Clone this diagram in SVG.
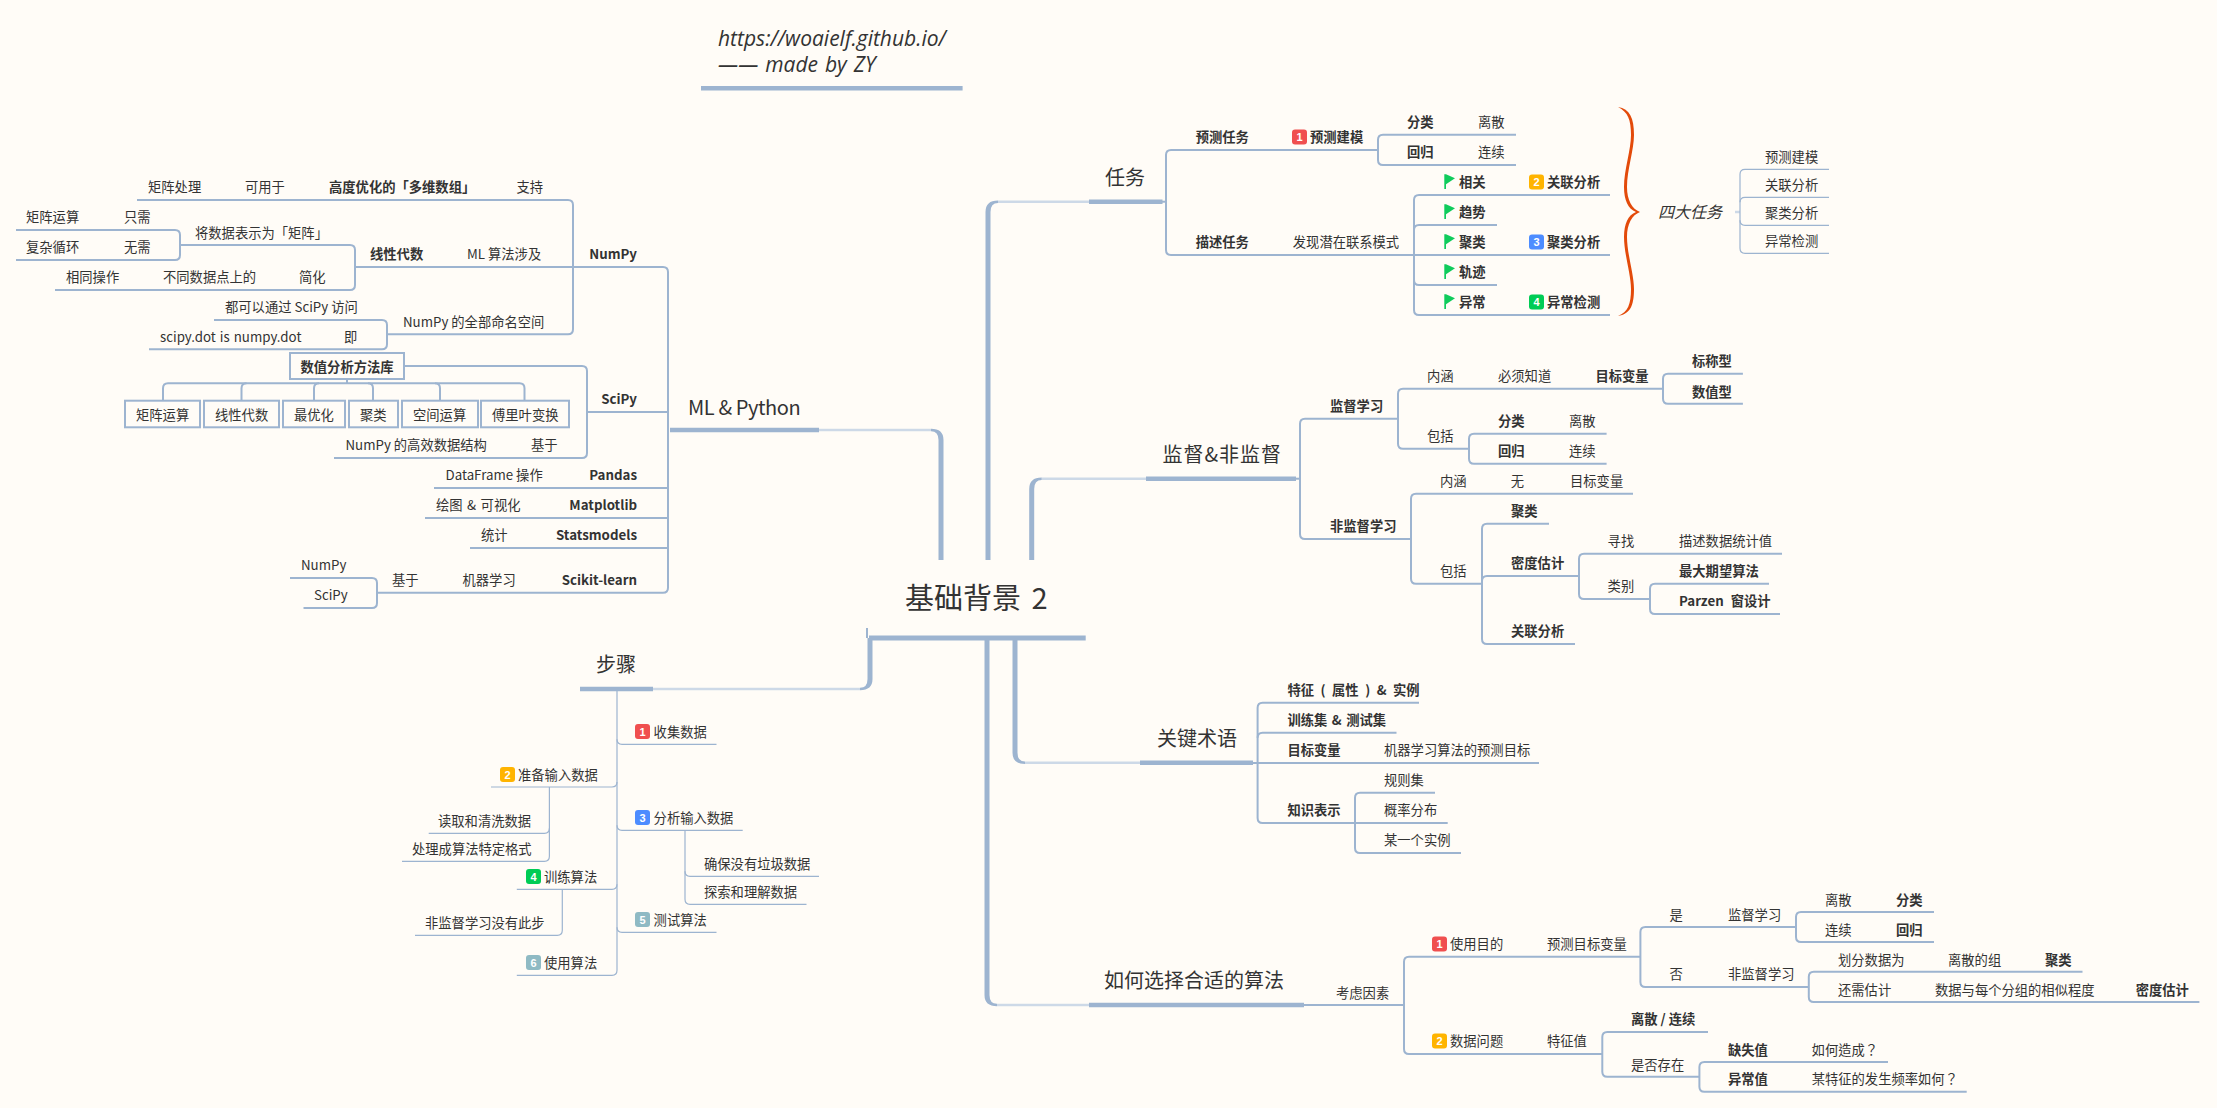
<svg xmlns="http://www.w3.org/2000/svg" width="2217" height="1108" viewBox="0 0 2217 1108">
<style>
text{font-family:"Noto Sans CJK SC","Noto Sans",sans-serif;font-size:13.3px;fill:#333}
.b{font-weight:700}
.t{font-size:20px}
.r{font-size:29px;word-spacing:4px}
.i{font-style:italic;font-size:16px}
.u{font-family:"Open Sans",Lato,sans-serif;font-style:italic;font-size:21px}
.n{font-family:"Liberation Sans",sans-serif;font-size:11px;font-weight:700;fill:#fff;text-anchor:middle}
.e{text-anchor:end}
.q{font-family:"Noto Sans CJK TC","Noto Sans",sans-serif}
#connectors path{fill:none;stroke:#9db4d0}
#connectors .tk{fill:#9db4d0;stroke:none}
#connectors .m{stroke-width:5}
#connectors .h{stroke-width:4.4}
#connectors .l{stroke-width:2.5;stroke:#cdd9e7}
#connectors .c{stroke-width:2}
#connectors .f{stroke-width:1.2}
.box{fill:none;stroke:#9db4d0;stroke-width:2}
.flag{fill:#0fcc5c}
.b1{fill:#f04f4f}.b2{fill:#ffb400}.b3{fill:#4d8cff}.b4{fill:#00cc55}.b5{fill:#8fbac4}
</style>
<defs>
<path id="flag" d="M0.3,-7.7H2L11,-3.7L2,2.3V7H0.3Z"/>
</defs>
<rect width="2217" height="1108" fill="#fffcf7"/>
<g id="connectors">
<!-- root and main trunks -->
<path class="m" d="M869,638H1085.7"/>
<path class="c" d="M867,628V638"/>
<path class="l" d="M653,689H860"/>
<path class="tk" d="M872.5,638V679Q872.5,690.2 860,690.2V687.8Q867.5,687.8 867.5,679V638Z"/>
<path class="l" d="M819,430H931"/>
<path class="tk" d="M943.5,560V440Q943.5,428.8 931,428.8V431.2Q938.5,431.2 938.5,440V560Z"/>
<path class="l" d="M998,201.7H1089"/>
<path class="tk" d="M985.5,560V212Q985.5,200.5 998,200.5V203Q990.5,203 990.5,212V560Z"/>
<path class="l" d="M1041.7,478.7H1146"/>
<path class="tk" d="M1029.2,560V489Q1029.2,477.5 1041.7,477.5V480Q1034.2,480 1034.2,489V560Z"/>
<path class="l" d="M1025,762.7H1140"/>
<path class="tk" d="M1012.5,638V752.7Q1012.5,764 1025,764V761.5Q1017.5,761.5 1017.5,752.7V638Z"/>
<path class="l" d="M997,1005H1089"/>
<path class="tk" d="M984.5,638V995Q984.5,1006.2 997,1006.2V1003.8Q989.5,1003.8 989.5,995V638Z"/>
<path class="h" d="M580,689H653"/>
<path class="h" d="M670,430H819"/>
<path class="h" d="M1089,201.7H1162.5"/>
<path class="h" d="M1146,478.7H1296"/>
<path class="h" d="M1140,762.7H1253"/>
<path class="h" d="M1089,1005H1304"/>
<path class="h" d="M701,88.3H962.6"/>
<!-- ML & Python -->
<path class="c" d="M137,200H568Q573,200 573,205V329.3Q573,334.3 568,334.3H387"/>
<path class="c" d="M355,267H663Q668,267 668,272V587.7Q668,592.7 663,592.7H377"/>
<path class="c" d="M180,245H350Q355,245 355,250V285Q355,290 350,290H55"/>
<path class="c" d="M16,230H175Q180,230 180,235V255Q180,260 175,260H16"/>
<path class="c" d="M214,320H382Q387,320 387,325V344.3Q387,349.3 382,349.3H149"/>
<path class="c" d="M668,412H587"/>
<path class="c" d="M404,366H582Q587,366 587,371V453Q587,458 582,458H334"/>
<path class="c" d="M347,379V383.3"/>
<path class="c" d="M163,400.7V388.3Q163,383.3 168,383.3H519.5Q524.5,383.3 524.5,388.3V400.7"/>
<path class="c" d="M241.5,400.7V388.3Q241.5,383.3 246.5,383.3"/>
<path class="c" d="M314,400.7V388.3Q314,383.3 319,383.3"/>
<path class="c" d="M373,400.7V388.3Q373,383.3 368,383.3"/>
<path class="c" d="M440,400.7V388.3Q440,383.3 435,383.3"/>
<path class="c" d="M668,488H434"/>
<path class="c" d="M668,518H425"/>
<path class="c" d="M668,548H470"/>
<path class="c" d="M290,578H372Q377,578 377,583V603Q377,608 372,608H303.5"/>
<!-- 任务 -->
<path class="c" d="M1162,201.7H1166"/>
<path class="c" d="M1378,150H1171Q1166,150 1166,155V250Q1166,255 1171,255H1610"/>
<path class="c" d="M1516,134.7H1383Q1378,134.7 1378,139.7V160Q1378,165 1383,165H1516"/>
<path class="c" d="M1610,195H1419Q1414,195 1414,200V310Q1414,315 1419,315H1610"/>
<path class="c" d="M1497,225H1419Q1414,225 1414,230"/>
<path class="c" d="M1497,285H1419Q1414,285 1414,280"/>
<path class="l" d="M1735,212H1740"/>
<path class="f" d="M1829,169.3H1745Q1740,169.3 1740,174.3V248.3Q1740,253.3 1745,253.3H1829"/>
<path class="f" d="M1829,197.3H1745Q1740,197.3 1740,202.3"/>
<path class="f" d="M1829,225.3H1745Q1740,225.3 1740,220.3"/>
<!-- 监督&非监督 -->
<path class="c" d="M1397.4,418.7H1305Q1300,418.7 1300,423.7V534Q1300,539 1305,539H1411"/>
<path class="c" d="M1296,478.7H1300"/>
<path class="c" d="M1662.8,388.7H1403Q1398,388.7 1398,393.7V443.7Q1398,448.7 1403,448.7H1469"/>
<path class="c" d="M1742.9,373.7H1668Q1663,373.7 1663,378.7V398.7Q1663,403.7 1668,403.7H1742.9"/>
<path class="c" d="M1606.6,433.7H1474Q1469,433.7 1469,438.7V458.7Q1469,463.7 1474,463.7H1606.6"/>
<path class="c" d="M1633,493.7H1416Q1411,493.7 1411,498.7V578.7Q1411,583.7 1416,583.7H1482"/>
<path class="c" d="M1549,523.7H1487Q1482,523.7 1482,528.7V639Q1482,644 1487,644H1575"/>
<path class="c" d="M1578.6,576H1487Q1482,576 1482,581"/>
<path class="c" d="M1782,553.7H1584Q1579,553.7 1579,558.7V594Q1579,599 1584,599H1650"/>
<path class="c" d="M1769,583.7H1655Q1650,583.7 1650,588.7V609Q1650,614 1655,614H1780"/>
<!-- 关键术语 -->
<path class="c" d="M1419,702.7H1262.6Q1257.6,702.7 1257.6,707.7V818Q1257.6,823 1262.6,823H1447.7"/>
<path class="c" d="M1396.5,732.7H1262.6Q1257.6,732.7 1257.6,737.7"/>
<path class="c" d="M1252,763H1539"/>
<path class="c" d="M1435,792.7H1360Q1355,792.7 1355,797.7V848Q1355,853 1360,853H1461"/>
<!-- 如何选择 -->
<path class="c" d="M1304,1005H1404"/>
<path class="c" d="M1640.4,956.7H1409Q1404,956.7 1404,961.7V1049Q1404,1054 1409,1054H1602.3"/>
<path class="c" d="M1796,927H1645.4Q1640.4,927 1640.4,932V982Q1640.4,987 1645.4,987H1808.8"/>
<path class="c" d="M1934,912H1801Q1796,912 1796,917V937Q1796,942 1801,942H1934"/>
<path class="c" d="M2082.5,971.7H1813.8Q1808.8,971.7 1808.8,976.7V997Q1808.8,1002 1813.8,1002H2199.4"/>
<path class="c" d="M1708,1032H1607.3Q1602.3,1032 1602.3,1037V1071.7Q1602.3,1076.7 1607.3,1076.7H1699.4"/>
<path class="c" d="M1888,1062H1704.4Q1699.4,1062 1699.4,1067V1086.7Q1699.4,1091.7 1704.4,1091.7H1966.7"/>
<!-- 步骤 -->
<path class="f" d="M617,691V970.3Q617,975.3 612,975.3H516.8"/>
<path class="f" d="M617,739.3Q617,744.3 622,744.3H716.5"/>
<path class="f" d="M617,782Q617,787 612,787H491"/>
<path class="f" d="M617,825.3Q617,830.3 622,830.3H742.7"/>
<path class="f" d="M617,884.3Q617,889.3 612,889.3H516.8"/>
<path class="f" d="M617,927.3Q617,932.3 622,932.3H716.5"/>
<path class="f" d="M549.4,787V856.3Q549.4,861.3 544.4,861.3H402"/>
<path class="f" d="M549.4,828.3Q549.4,833.3 544.4,833.3H428.7"/>
<path class="f" d="M685,830.3V899.3Q685,904.3 690,904.3H806.5"/>
<path class="f" d="M685,871.3Q685,876.3 690,876.3H819"/>
<path class="f" d="M562.3,889.3V930.3Q562.3,935.3 557.3,935.3H415"/>
</g>

<g id="root"><text class="r" x="905" y="609">基础背景 2</text></g>
<g id="note"><text class="u" x="718" y="46">https://woaielf.github.io/</text><text class="u" x="718" y="72" word-spacing="1.5">—— made by ZY</text></g>

<g id="t-ml"><text class="t" x="688" y="415" letter-spacing="-0.4">ML &amp; Python</text></g>
<g id="t-task"><text class="t" x="1105" y="185">任务</text></g>
<g id="t-sup"><text class="t" x="1162.5" y="462" letter-spacing="1">监督&amp;非监督</text></g>
<g id="t-term"><text class="t" x="1157" y="746">关键术语</text></g>
<g id="t-how"><text class="t" x="1104" y="988">如何选择合适的算法</text></g>
<g id="t-step"><text class="t" x="596" y="672">步骤</text></g>

<g id="numpy">
<text class="b e" x="637" y="259">NumPy</text>
<text x="148" y="192">矩阵处理</text><text x="245" y="192">可用于</text><text class="b" x="329" y="192">高度优化的「多维数组」</text><text x="516.5" y="192">支持</text>
<text class="b" x="370" y="259">线性代数</text><text x="467" y="259">ML 算法涉及</text>
<text x="195" y="237.5">将数据表示为「矩阵」</text>
<text x="26" y="222">矩阵运算</text><text x="124" y="222">只需</text>
<text x="26" y="252">复杂循环</text><text x="124" y="252">无需</text>
<text x="66" y="282">相同操作</text><text x="163" y="282">不同数据点上的</text><text x="299" y="282">简化</text>
<text x="403" y="327">NumPy 的全部命名空间</text>
<text x="225" y="312">都可以通过 SciPy 访问</text>
<text x="160" y="342" word-spacing="1">scipy.dot is numpy.dot</text><text x="344" y="342">即</text>
</g>
<g id="scipy">
<text class="b e" x="637" y="403.5">SciPy</text>
<rect class="box" x="290" y="353" width="114" height="26"/><text class="b" x="300.5" y="372">数值分析方法库</text>
<rect class="box" x="125" y="400.7" width="75" height="26.6"/><text x="136" y="420">矩阵运算</text>
<rect class="box" x="204" y="400.7" width="75" height="26.6"/><text x="215" y="420">线性代数</text>
<rect class="box" x="283" y="400.7" width="62" height="26.6"/><text x="294" y="420">最优化</text>
<rect class="box" x="349" y="400.7" width="49" height="26.6"/><text x="360" y="420">聚类</text>
<rect class="box" x="402" y="400.7" width="76" height="26.6"/><text x="413" y="420">空间运算</text>
<rect class="box" x="481" y="400.7" width="88" height="26.6"/><text x="492" y="420">傅里叶变换</text>
<text x="345.5" y="450">NumPy 的高效数据结构</text><text x="531" y="450">基于</text>
</g>
<g id="pandas"><text class="b e" x="637" y="480">Pandas</text><text x="445.5" y="480">DataFrame 操作</text></g>
<g id="matplotlib"><text class="b e" x="637" y="510">Matplotlib</text><text x="436" y="510" word-spacing="1.5">绘图 &amp; 可视化</text></g>
<g id="statsmodels"><text class="b e" x="637" y="540">Statsmodels</text><text x="481" y="540">统计</text></g>
<g id="sklearn"><text class="b e" x="637" y="584.5">Scikit-learn</text><text x="462.5" y="584.5">机器学习</text><text x="392" y="584.5">基于</text>
<text x="301" y="570">NumPy</text><text x="314" y="600">SciPy</text></g>

<g id="task-predict">
<text class="b" x="1195.7" y="142">预测任务</text>
<rect class="b1" x="1292" y="129.5" width="15" height="15" rx="3"/><text class="n" x="1299.5" y="141">1</text>
<text class="b" x="1310" y="142">预测建模</text>
<text class="b" x="1407" y="127">分类</text><text x="1478" y="127">离散</text>
<text class="b" x="1407" y="157">回归</text><text x="1478" y="157">连续</text>
</g>
<g id="task-desc">
<text class="b" x="1195.7" y="247">描述任务</text><text x="1292.8" y="247">发现潜在联系模式</text>
<use class="flag" href="#flag" x="1444" y="182"/><text class="b" x="1459" y="187">相关</text>
<rect class="b2" x="1529" y="174.5" width="15" height="15" rx="3"/><text class="n" x="1536.5" y="186">2</text><text class="b" x="1547" y="187">关联分析</text>
<use class="flag" href="#flag" x="1444" y="212"/><text class="b" x="1459" y="217">趋势</text>
<use class="flag" href="#flag" x="1444" y="242"/><text class="b" x="1459" y="247">聚类</text>
<rect class="b3" x="1529" y="234.5" width="15" height="15" rx="3"/><text class="n" x="1536.5" y="246">3</text><text class="b" x="1547" y="247">聚类分析</text>
<use class="flag" href="#flag" x="1444" y="272"/><text class="b" x="1459" y="277">轨迹</text>
<use class="flag" href="#flag" x="1444" y="302"/><text class="b" x="1459" y="307">异常</text>
<rect class="b4" x="1529" y="294.5" width="15" height="15" rx="3"/><text class="n" x="1536.5" y="306">4</text><text class="b" x="1547" y="307">异常检测</text>
</g>
<g id="brace">
<path fill="#e34a0a" d="M1618,107C1630,109 1634,118 1634,135C1634,150 1627,170 1627,187C1627,200 1632,209 1640,212C1632,215 1627,224 1627,237C1627,254 1634,274 1634,289C1634,306 1630,314 1618,316C1628,312 1631,304 1631,289C1631,274 1624,254 1624,237C1624,224 1628,215 1636,212C1628,209 1624,200 1624,187C1624,170 1631,150 1631,135C1631,120 1628,112 1618,107Z"/>
<text class="i" x="1658" y="218">四大任务</text>
</g>
<g id="four">
<text x="1765" y="161.5">预测建模</text><text x="1765" y="190">关联分析</text><text x="1765" y="218">聚类分析</text><text x="1765" y="246">异常检测</text>
</g>

<g id="sup">
<text class="b" x="1330" y="411">监督学习</text>
<text x="1427" y="381">内涵</text><text x="1498" y="381">必须知道</text><text class="b" x="1595.4" y="381">目标变量</text>
<text class="b" x="1692" y="366">标称型</text><text class="b" x="1692" y="396.7">数值型</text>
<text x="1427" y="441">包括</text>
<text class="b" x="1498" y="426">分类</text><text x="1569" y="426">离散</text>
<text class="b" x="1498" y="456">回归</text><text x="1569" y="456">连续</text>
</g>
<g id="unsup">
<text class="b" x="1330" y="531">非监督学习</text>
<text x="1440" y="486">内涵</text><text x="1510.7" y="486">无</text><text x="1570" y="486">目标变量</text>
<text x="1440" y="576">包括</text>
<text class="b" x="1511" y="516">聚类</text>
<text class="b" x="1511" y="567.7">密度估计</text>
<text class="b" x="1511" y="636.3">关联分析</text>
<text x="1607.6" y="546">寻找</text><text x="1679" y="546">描述数据统计值</text>
<text x="1607.6" y="591">类别</text>
<text class="b" x="1679" y="576">最大期望算法</text>
<text class="b" x="1679" y="606" word-spacing="4">Parzen 窗设计</text>
</g>

<g id="terms">
<text class="b" x="1287.4" y="695" word-spacing="3.5">特征 ( 属性 ) &amp; 实例</text>
<text class="b" x="1287.4" y="725" word-spacing="1.5">训练集 &amp; 测试集</text>
<text class="b" x="1287.4" y="755">目标变量</text><text x="1384" y="755">机器学习算法的预测目标</text>
<text class="b" x="1287.4" y="815">知识表示</text>
<text x="1384" y="785">规则集</text><text x="1384" y="815">概率分布</text><text x="1384" y="845">某一个实例</text>
</g>

<g id="how">
<text x="1336" y="997.7">考虑因素</text>
<rect class="b1" x="1432" y="936.5" width="15" height="15" rx="3"/><text class="n" x="1439.5" y="948">1</text>
<text x="1450" y="949">使用目的</text><text x="1547" y="949">预测目标变量</text>
<text x="1669.6" y="919.7">是</text><text x="1728" y="919.7">监督学习</text>
<text x="1669.6" y="979.3">否</text><text x="1728" y="979.3">非监督学习</text>
<text x="1825" y="904.7">离散</text><text class="b" x="1896" y="904.7">分类</text>
<text x="1825" y="934.7">连续</text><text class="b" x="1896" y="934.7">回归</text>
<text x="1838" y="965">划分数据为</text><text x="1948" y="965">离散的组</text><text class="b" x="2045" y="965">聚类</text>
<text x="1838" y="994.7">还需估计</text><text x="1935" y="994.7">数据与每个分组的相似程度</text><text class="b" x="2135.7" y="994.7">密度估计</text>
<rect class="b2" x="1432" y="1033.5" width="15" height="15" rx="3"/><text class="n" x="1439.5" y="1045">2</text>
<text x="1450" y="1046">数据问题</text><text x="1547" y="1046">特征值</text>
<text class="b" x="1631" y="1024">离散 / 连续</text>
<text x="1631" y="1069.7">是否存在</text>
<text class="b" x="1728" y="1054.7">缺失值</text><text class="q" x="1811.7" y="1054.7">如何造成？</text>
<text class="b" x="1728" y="1084.3">异常值</text><text class="q" x="1811.7" y="1084.3">某特征的发生频率如何？</text>
</g>

<g id="steps">
<rect class="b1" x="635" y="724" width="15" height="15" rx="3"/><text class="n" x="642.5" y="735.5">1</text><text x="653.6" y="736.7">收集数据</text>
<rect class="b2" x="500" y="767" width="15" height="15" rx="3"/><text class="n" x="507.5" y="778.5">2</text><text x="518" y="779.7">准备输入数据</text>
<text x="438" y="826">读取和清洗数据</text><text x="412" y="854">处理成算法特定格式</text>
<rect class="b3" x="635" y="810" width="15" height="15" rx="3"/><text class="n" x="642.5" y="821.5">3</text><text x="653.6" y="822.7">分析输入数据</text>
<text x="704" y="869">确保没有垃圾数据</text><text x="704" y="897">探索和理解数据</text>
<rect class="b4" x="526" y="869" width="15" height="15" rx="3"/><text class="n" x="533.5" y="880.5">4</text><text x="544" y="881.7">训练算法</text>
<text x="425" y="928">非监督学习没有此步</text>
<rect class="b5" x="635" y="912" width="15" height="15" rx="3"/><text class="n" x="642.5" y="923.5">5</text><text x="653.6" y="924.7">测试算法</text>
<rect class="b5" x="526" y="955" width="15" height="15" rx="3"/><text class="n" x="533.5" y="966.5">6</text><text x="544" y="967.7">使用算法</text>
</g>
</svg>
